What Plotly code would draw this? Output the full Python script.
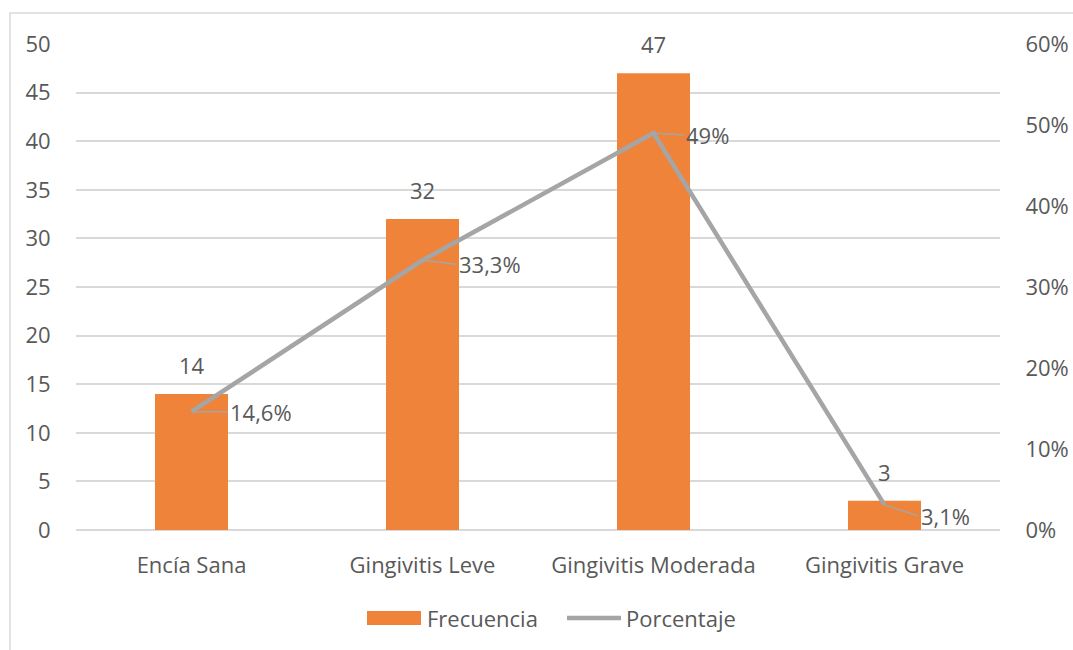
import plotly.graph_objects as go

categories = ["Encía Sana", "Gingivitis Leve", "Gingivitis Moderada", "Gingivitis Grave"]
frecuencia = [14, 32, 47, 3]
porcentaje = [14.6, 33.3, 49.0, 3.1]
porcentaje_labels = ["14,6%", "33,3%", "49%", "3,1%"]
left_ticks = [0, 5, 10, 15, 20, 25, 30, 35, 40, 45, 50]
right_ticks = [0, 10, 20, 30, 40, 50, 60]
right_tick_labels = ["0%", "10%", "20%", "30%", "40%", "50%", "60%"]
series_names = ["Frecuencia", "Porcentaje"]

FONT = "Open Sans"
FS = 22
TXT = "#595959"
ORANGE = "#F0833A"
GRAY = "#A5A5A5"
GRID = "#D9D9D9"

W, H = 1073, 650
L, R, T, B = 76, 73, 44, 120
PW, PH = W - L - R, H - T - B


def px(x):
    return (x - L) / PW


def py(y):
    return (H - B - y) / PH


fig = go.Figure()
fig.add_trace(go.Bar(
    x=categories, y=frecuencia, name=series_names[0],
    marker=dict(color=ORANGE, line=dict(width=0)),
    width=0.316, showlegend=False,
))
fig.add_trace(go.Scatter(
    x=categories, y=porcentaje, name=series_names[1], yaxis="y2",
    mode="lines", line=dict(color=GRAY, width=4.5),
    cliponaxis=False, showlegend=False,
))

# bar value labels
for c, v in zip(categories, frecuencia):
    fig.add_annotation(x=c, y=v, text=str(v), showarrow=False, yanchor="bottom",
                       yshift=12, font=dict(family=FONT, size=FS, color=TXT))

# percentage labels with leader lines
offsets = [(36, 0), (34, 4), (30, 2), (34, 11)]
for c, v, lab, (ax, ay) in zip(categories, porcentaje, porcentaje_labels, offsets):
    fig.add_annotation(
        x=c, y=v, yref="y2", text=lab, showarrow=True, arrowhead=0,
        arrowwidth=1.5, arrowcolor=GRAY, ax=ax, ay=ay, xanchor="left",
        font=dict(family=FONT, size=FS, color=TXT), standoff=0,
    )

# chart border (light gray, left and top visible)
fig.add_shape(type="rect", xref="paper", yref="paper",
              x0=px(10), x1=px(1085), y0=py(665), y1=py(13),
              line=dict(color=GRID, width=1.5), fillcolor="rgba(0,0,0,0)", layer="below")

# legend (drawn manually to match wide swatches)
fig.add_shape(type="rect", xref="paper", yref="paper",
              x0=px(367), x1=px(421), y0=py(625), y1=py(611),
              line=dict(width=0), fillcolor=ORANGE)
fig.add_annotation(xref="paper", yref="paper", x=px(425), y=py(618), text=series_names[0],
                   showarrow=False, xanchor="left", yanchor="middle",
                   font=dict(family=FONT, size=FS, color=TXT))
fig.add_shape(type="line", xref="paper", yref="paper",
              x0=px(567), x1=px(621), y0=py(618), y1=py(618),
              line=dict(color=GRAY, width=4.5))
fig.add_annotation(xref="paper", yref="paper", x=px(624), y=py(618), text=series_names[1],
                   showarrow=False, xanchor="left", yanchor="middle",
                   font=dict(family=FONT, size=FS, color=TXT))

fig.update_layout(
    width=W, height=H,
    margin=dict(l=L, r=R, t=T, b=B, autoexpand=False),
    plot_bgcolor="white", paper_bgcolor="white",
    font=dict(family=FONT, size=FS, color=TXT),
    showlegend=False,
    xaxis=dict(showgrid=False, showline=False, ticks="outside", ticklen=16, tickcolor="white",
               automargin=False, tickfont=dict(family=FONT, size=FS, color=TXT)),
    yaxis=dict(range=[0, 50], tickvals=left_ticks, showgrid=True, gridcolor=GRID, gridwidth=1.5,
               zeroline=True, zerolinecolor=GRID, zerolinewidth=1.5,
               ticks="outside", ticklen=20, tickcolor="white", automargin=False,
               tickfont=dict(family=FONT, size=FS, color=TXT)),
    yaxis2=dict(range=[0, 60], tickvals=right_ticks, ticktext=right_tick_labels,
                overlaying="y", side="right", showgrid=False, zeroline=False,
                ticks="outside", ticklen=20, tickcolor="white", automargin=False,
                tickfont=dict(family=FONT, size=FS, color=TXT)),
)

fig.write_html("out.html", config={"displayModeBar": False},
               post_script="document.body.style.margin='0';document.body.style.overflow='hidden';")
